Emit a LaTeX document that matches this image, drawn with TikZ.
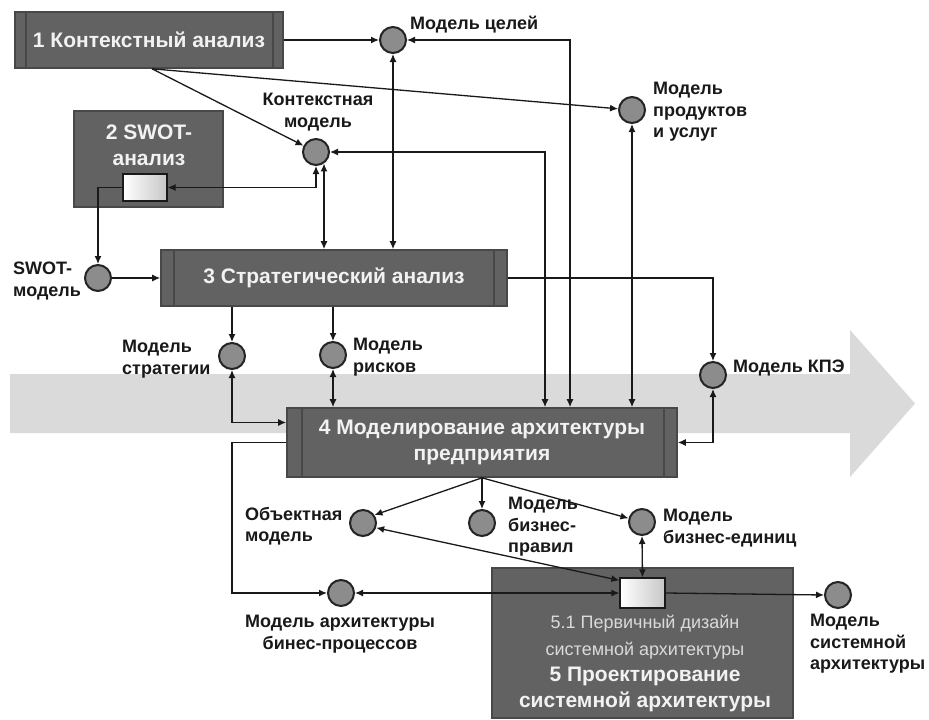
\documentclass[tikz,border=0pt]{standalone}
\usepackage{fontspec}
\setmainfont{Liberation Sans}
\usetikzlibrary{arrows.meta,calc}

\definecolor{flowbg}{RGB}{218,218,218}
\definecolor{boxfill}{RGB}{98,98,98}
\definecolor{boxedge}{RGB}{72,72,72}
\definecolor{dotfill}{RGB}{140,140,140}
\definecolor{dotedge}{RGB}{36,36,36}
\definecolor{boxtext}{RGB}{242,242,242}
\definecolor{subtext}{RGB}{218,218,218}
\definecolor{ink}{RGB}{25,25,25}

\tikzset{
  proc/.style={draw=boxedge, line width=1.6pt, fill=boxfill, inner sep=0pt,
    text=boxtext, font=\fontsize{21}{26}\selectfont\bfseries, align=center},
  sidebar/.style={draw=boxedge, line width=1.6pt},
  dot/.style={circle, draw=dotedge, fill=dotfill, line width=2pt,
    minimum size=26pt, inner sep=0pt},
  act/.style={draw=ink, line width=1.3pt, left color=white, right color=black!22,
    inner sep=0pt},
  lbl/.style={font=\fontsize{18}{21.5}\selectfont\bfseries, text=ink,
    inner sep=0pt, align=left},
  procfont/.style={font=\fontsize{21}{26}\selectfont\bfseries, text=boxtext,
    inner sep=0pt, align=center},
  subfont/.style={font=\fontsize{18}{27}\selectfont, text=subtext,
    inner sep=0pt, align=center},
  flow/.style={line width=1.3pt, draw=ink, -{Latex[length=8pt,width=7pt]}},
  flow2/.style={line width=1.3pt, draw=ink,
    {Latex[length=8pt,width=7pt]}-{Latex[length=8pt,width=7pt]}},
}

\begin{document}
\begin{tikzpicture}[x=1pt,y=-1pt]
\useasboundingbox (0,0) rectangle (929,720);
\fill[white] (0,0) rectangle (929,720);

% broad process arrow in the background
\fill[flowbg] (10,374) -- (850,374) -- (850,330) -- (915,403.5)
  -- (850,477) -- (850,433) -- (10,433) -- cycle;

% process boxes
\node[proc, minimum width=268pt, minimum height=56pt] (b1) at (149,40)
  {1 Контекстный анализ};
\node[proc, minimum width=149pt, minimum height=96pt] (b2) at (148.5,159) {};
\node[procfont, anchor=north] (t2) at (149,125) {2 SWOT-\\анализ};
\node[proc, minimum width=346pt, minimum height=56pt] (b3) at (334,278)
  {3 Стратегический анализ};
\node[proc, minimum width=390pt, minimum height=69pt] (b4) at (482,442.5)
  {4 Моделирование архитектуры\\предприятия};
\node[proc, minimum width=301pt, minimum height=150pt] (b5) at (642.5,643) {};
\node[subfont, anchor=north] (t51) at (645,615)
  {5.1 Первичный дизайн\\системной архитектуры};
\node[procfont, anchor=north] (t5) at (645,667)
  {5 Проектирование\\системной архитектуры};

% side bars of the process boxes
\draw[sidebar] ([xshift=12pt]b1.north west) -- ([xshift=12pt]b1.south west);
\draw[sidebar] ([xshift=-11pt]b1.north east) -- ([xshift=-11pt]b1.south east);
\draw[sidebar] ([xshift=14pt]b3.north west) -- ([xshift=14pt]b3.south west);
\draw[sidebar] ([xshift=-14pt]b3.north east) -- ([xshift=-14pt]b3.south east);
\draw[sidebar] ([xshift=16pt]b4.north west) -- ([xshift=16pt]b4.south west);
\draw[sidebar] ([xshift=-14pt]b4.north east) -- ([xshift=-14pt]b4.south east);

% activities inside the boxes
\node[act, minimum width=44pt, minimum height=27pt] (s2) at (145,187.5) {};
\node[act, minimum width=45pt, minimum height=30pt] (s51) at (642.5,593) {};

% model nodes
\node[dot] (cG)    at (393,40)  {};
\node[dot] (cCtx)  at (316,152) {};
\node[dot] (cProd) at (632,110) {};
\node[dot] (cSW)   at (98,278)  {};
\node[dot] (cStr)  at (232,356) {};
\node[dot] (cRisk) at (333,355) {};
\node[dot] (cKPE)  at (713,375) {};
\node[dot] (cObj)  at (363,523) {};
\node[dot] (cRule) at (482,523) {};
\node[dot] (cUnit) at (642,522) {};
\node[dot] (cBP)   at (341,593) {};
\node[dot] (cSys)  at (838,595) {};

% model labels
\node[lbl, anchor=base west] (lG) at (410,29) {Модель целей};
\node[lbl, anchor=north, align=center] (lCtx) at (318,93) {Контекстная\\модель};
\node[lbl, anchor=north west] (lProd) at (653,82) {Модель\\продуктов\\и услуг};
\node[lbl, anchor=north west] (lSW) at (13,262) {SWOT-\\модель};
\node[lbl, anchor=north west] (lStr) at (122,340) {Модель\\стратегии};
\node[lbl, anchor=north west] (lRisk) at (353,338) {Модель\\рисков};
\node[lbl, anchor=base west] (lKPE) at (733,372) {Модель КПЭ};
\node[lbl, anchor=north west] (lObj) at (245,507) {Объектная\\модель};
\node[lbl, anchor=north west] (lRule) at (508,497) {Модель\\бизнес-\\правил};
\node[lbl, anchor=north west] (lUnit) at (663,509) {Модель\\бизнес-единиц};
\node[lbl, anchor=north, align=center] (lBP) at (340,615)
  {Модель архитектуры\\бинес-процессов};
\node[lbl, anchor=north west] (lSys) at (810,614) {Модель\\системной\\архитектуры};

% helper points
\coordinate (hub1) at ([xshift=3pt]b1.south);
\coordinate (lp) at (232,442);

% connectors
\draw[flow] (b1.east) -- (cG.west);
\draw[flow] (hub1) -- (cCtx);
\draw[flow] (hub1) -- (cProd);
\draw[flow2] (s2.east) -| (cCtx.south);
\draw[flow2] (cCtx.-55) -- (cCtx.-55 |- b3.north);
\draw[flow2] (cG.south) -- (cG.south |- b3.north);
\draw[flow2] (cG.east) -| ([xshift=88pt]b4.north);
\draw[flow2] (cCtx.east) -| ([xshift=63pt]b4.north);
\draw[flow2] (cProd.south) -- (cProd.south |- b4.north);
\draw[flow] (s2.west) -| (cSW.north);
\draw[flow] (cSW.east) -- (b3.west);
\draw[flow] (b3.east) -| (cKPE.north);
\draw[flow2] (cKPE.south) |- (b4.east);
\draw[flow] (cStr |- b3.south) -- (cStr.north);
\draw[flow] (cRisk |- b3.south) -- (cRisk.north);
\draw[flow2] (cStr.south) |- ([yshift=20pt]b4.west);
\draw[flow2] (cRisk.south) -- (cRisk.south |- b4.north);
\draw[flow] (b4.west) -- (b4.west -| lp) |- (cBP.west);
\draw[flow2] (cBP.east) -- (s51.west);
\draw[flow] (b4.south) -- (cObj.35);
\draw[flow] (b4.south) -- (cRule.north);
\draw[flow] (b4.south) -- (cUnit);
\draw[flow2] (cObj.-20) -- ([yshift=-3pt]s51.north west);
\draw[flow2] (cUnit.south) -- (s51.north);
\draw[flow] (s51.east) -- (cSys.west);
\end{tikzpicture}
\end{document}
